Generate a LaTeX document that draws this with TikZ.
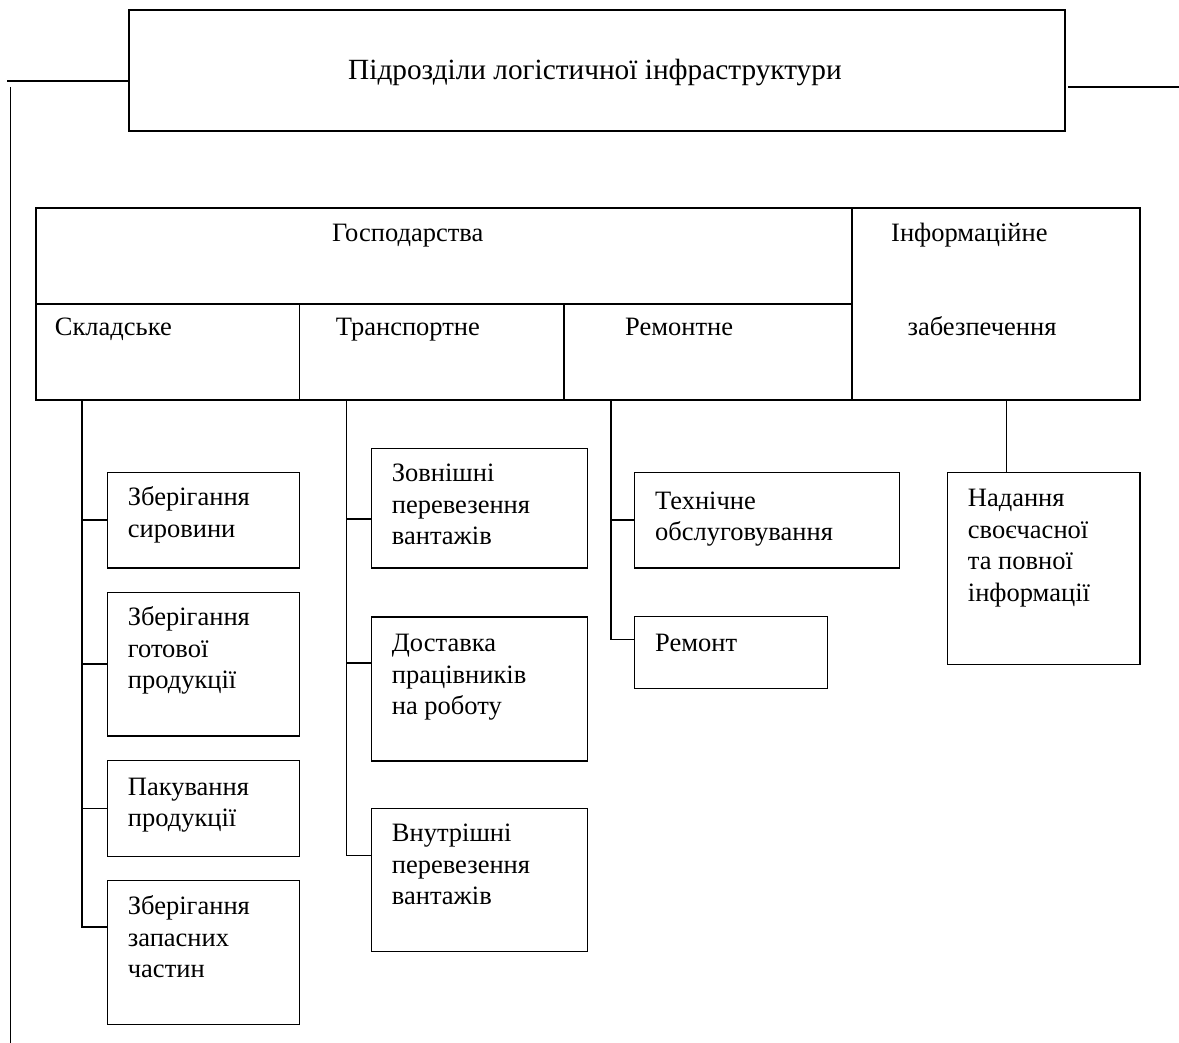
\documentclass[tikz,border=0pt]{standalone}
\usepackage{fontspec}
\setmainfont{Liberation Serif}
\begin{document}
\begin{tikzpicture}[x=1pt,y=-1pt,
  box/.style={draw, line width=1.8pt, inner sep=0pt, anchor=north west},
  conn/.style={line width=1.8pt},
  lbl/.style={inner sep=0pt, anchor=base west, font=\fontsize{26.5}{31.5}\selectfont},
  mlbl/.style={inner sep=0pt, anchor=north west, align=left, font=\fontsize{26.5}{31.5}\selectfont}]
\useasboundingbox (0,0) rectangle (1179,1043);
% boxes
\node[box, minimum width=936pt, minimum height=121pt] (top) at (128,9) {};
\node[box, minimum width=816pt, minimum height=96pt] (gosp) at (35,207) {};
\node[box, minimum width=263.5pt, minimum height=96pt] (skl) at (35,303) {};
\node[box, minimum width=264.5pt, minimum height=96pt] (trn) at (298.5,303) {};
\node[box, minimum width=288pt, minimum height=96pt] (rem) at (563,303) {};
\node[box, minimum width=288pt, minimum height=192pt] (inf) at (851,207) {};
\node[box, minimum width=192pt, minimum height=95.5pt] (s1) at (106.5,471.5) {};
\node[box, minimum width=192pt, minimum height=143.5pt] (s2) at (106.5,591.5) {};
\node[box, minimum width=192pt, minimum height=96pt] (s3) at (106.5,759.5) {};
\node[box, minimum width=192pt, minimum height=144pt] (s4) at (106.5,879.5) {};
\node[box, minimum width=216pt, minimum height=119.5pt] (t1) at (370.5,447.5) {};
\node[box, minimum width=216pt, minimum height=144pt] (t2) at (370.5,616) {};
\node[box, minimum width=216pt, minimum height=143pt] (t3) at (370.5,807.5) {};
\node[box, minimum width=265pt, minimum height=95.5pt] (r1) at (633.5,471.5) {};
\node[box, minimum width=193pt, minimum height=72pt] (r2) at (633.5,615.5) {};
\node[box, minimum width=192.5pt, minimum height=192pt] (i1) at (946.5,471.5) {};
% texts
\node[lbl, font=\fontsize{29.3}{34}\selectfont] (ttop) at (348,80) {Підрозділи логістичної інфраструктури};
\node[lbl] (tgosp) at (332,242) {Господарства};
\node[lbl] (tinf1) at (891,242) {Інформаційне};
\node[lbl] (tinf2) at (907.4,335) {забезпечення};
\node[lbl] (tskl) at (54.7,335) {Складське};
\node[lbl] (ttrn) at (335.7,335) {Транспортне};
\node[lbl] (trem) at (625,335) {Ремонтне};
\node[lbl] (tr2) at (655,651.7) {Ремонт};
\node[mlbl] (ts1) at (127.7,483.7) {\strut Зберігання\\сировини};
\node[mlbl] (ts2) at (127.7,603.7) {\strut Зберігання\\готової\\продукції};
\node[mlbl] (ts3) at (127.7,773) {\strut Пакування\\продукції};
\node[mlbl] (ts4) at (127.7,892.5) {\strut Зберігання\\запасних\\частин};
\node[mlbl] (tt1) at (391.7,459.7) {\strut Зовнішні\\перевезення\\вантажів};
\node[mlbl] (tt2) at (391.7,629.7) {\strut Доставка\\працівників\\на роботу};
\node[mlbl] (tt3) at (391.7,819.7) {\strut Внутрішні\\перевезення\\вантажів};
\node[mlbl] (tr1) at (655,487) {\strut Технічне\\обслуговування};
\node[mlbl] (ti1) at (967.7,484.7) {\strut Надання\\своєчасної\\та повної\\інформації};
% connector coordinates
\coordinate (ks) at ([shift={(47,0)}]skl.south west);
\coordinate (kt) at ([shift={(48,0)}]trn.south west);
\coordinate (kr) at ([shift={(47.7,0)}]rem.south west);
\coordinate (ki) at ([shift={(60,0)}]i1.north west);
\coordinate (s4c) at ([shift={(0,47.5)}]s4.north west);
\coordinate (t1c) at ([shift={(0,71.5)}]t1.north west);
\coordinate (t2c) at ([shift={(0,47)}]t2.north west);
\coordinate (t3c) at ([shift={(0,48)}]t3.north west);
\coordinate (r2c) at ([shift={(0,24)}]r2.north west);
\coordinate (ll) at (7,81);
\coordinate (v1) at (10.5,87);
\coordinate (v2) at (10.5,1043);
\coordinate (rr) at (1179,87);
% connectors
\draw[conn] (ks) |- (s4c);
\draw[conn] (s1.west) -- (s1.west -| ks);
\draw[conn] (s2.west) -- (s2.west -| ks);
\draw[conn] (s3.west) -- (s3.west -| ks);
\draw[conn] (kt) |- (t3c);
\draw[conn] (t1c) -- (t1c -| kt);
\draw[conn] (t2c) -- (t2c -| kt);
\draw[conn] (kr) |- (r2c);
\draw[conn] (r1.west) -- (r1.west -| kr);
\draw[conn] (ki |- inf.south) -- (ki);
\draw[conn] (ll) -- (ll -| top.west);
\draw[conn] (v1) -- (v2);
\draw[conn] ([shift={(2,0)}]rr -| top.east) -- (rr);
\end{tikzpicture}
\end{document}
